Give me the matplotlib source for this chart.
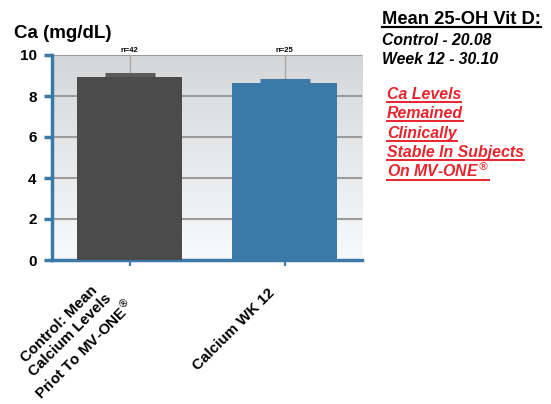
import numpy as np
import matplotlib
matplotlib.use("Agg")
import matplotlib.pyplot as plt
from matplotlib.lines import Line2D
from matplotlib.colors import LinearSegmentedColormap
from matplotlib.transforms import ScaledTranslation

plt.rcParams['font.family'] = ['Liberation Sans', 'DejaVu Sans']

categories = ["Control: Mean\nCalcium Levels\nPriot To MV-ONE$^{\\circledR}$", "Calcium WK 12"]
values = [8.93, 8.65]
errors = [0.14, 0.15]
n_labels = ["n=42", "n=25"]
bar_colors = ["#4a4b4a", "#3b79a8"]
err_colors = ["#5a5b5a", "#3b79a8"]
yticks = [0, 2, 4, 6, 8, 10]

fig = plt.figure(figsize=(5.51, 4.04), dpi=100)
ax = fig.add_axes([52/551, 1-260/404, 310/551, 205/404])

# gradient background
cmap = LinearSegmentedColormap.from_list("bg", ["#f9fafb", "#d5d6d7"])
grad = np.linspace(0, 1, 256).reshape(-1, 1)
ax.imshow(grad, extent=[-0.5, 1.5, 0, 10], origin="lower", aspect="auto", cmap=cmap, zorder=0)

x = np.arange(len(values))
ax.set_xlim(-0.5, 1.5)
ax.set_ylim(0, 10)

for yv in yticks[1:]:
    ax.axhline(yv, color="#9c9c9c", lw=1.5, zorder=1)
for xv in x:
    ax.axvline(xv, color="#a8a8a8", lw=1, zorder=1)

for i in range(len(values)):
    ax.errorbar(x[i], values[i], yerr=[[0], [errors[i]]], fmt="none",
                ecolor=err_colors[i], elinewidth=1.5, capsize=18, capthick=2.2, zorder=2)
ax.bar(x, values, width=0.68, color=bar_colors, zorder=3)

for i, t in enumerate(n_labels):
    ax.text(x[i], 10.05, t, ha="center", va="bottom", fontsize=5.5, fontweight="bold")

for s in ["top", "right"]:
    ax.spines[s].set_visible(False)
for s in ["left", "bottom"]:
    ax.spines[s].set_color("#3b79a8")
    ax.spines[s].set_linewidth(2.5)

ax.set_yticks(yticks)
ax.set_yticklabels([str(v) for v in yticks], fontsize=11, fontweight="bold")
ax.tick_params(axis="y", colors="#3b79a8", length=6, width=2.5, labelcolor="black", pad=5)
ax.set_xticks(x)
ax.set_xticklabels([])
ax.tick_params(axis="x", colors="#3b79a8", length=4, width=1.5)

# rotated category labels (pixel offsets from tick position)
label_offsets = [(-10, -30), (-12, -31)]
for i, lab in enumerate(categories):
    dx, dy = label_offsets[i]
    tr = ax.get_xaxis_transform() + ScaledTranslation(dx/100, dy/100, fig.dpi_scale_trans)
    ax.text(x[i], 0, lab, transform=tr, rotation=45, ha="right", va="center",
            rotation_mode="anchor", multialignment="center",
            fontsize=10.9, fontweight="bold", linespacing=1.15, clip_on=False)

fig.text(14/551, 1-33/404, "Ca (mg/dL)", fontsize=13.5, fontweight="bold", va="center", ha="left")

def underlined(xp, ybase_px, s, lw=1.4, **kw):
    t = fig.text(xp, 1 - ybase_px/404, s, va="baseline", ha="left", **kw)
    fig.canvas.draw()
    bb = t.get_window_extent()
    y = 1 - (ybase_px + 2.5) / 404
    fig.add_artist(Line2D([bb.x0 / fig.bbox.width, bb.x1 / fig.bbox.width], [y, y],
                          color=kw.get("color", "black"), lw=lw, transform=fig.transFigure))
    return t

underlined(382/551, 24, "Mean 25-OH Vit D:", lw=1.6, fontsize=13.2, fontweight="bold")
fig.text(382/551, 1-45/404, "Control - 20.08", fontsize=11.3, fontweight="bold", style="italic", va="baseline")
fig.text(382/551, 1-63.5/404, "Week 12 - 30.10", fontsize=11.3, fontweight="bold", style="italic", va="baseline")

red_lines = ["Ca Levels", "Remained", "Clinically", "Stable In Subjects", "On MV-ONE$^{\\circledR}$"]
for k, s in enumerate(red_lines):
    underlined(387/551, 99 + 19.5*k, s, fontsize=11.4, fontweight="bold", style="italic",
               color="#e8242c")

fig.savefig("out.png", dpi=100)
